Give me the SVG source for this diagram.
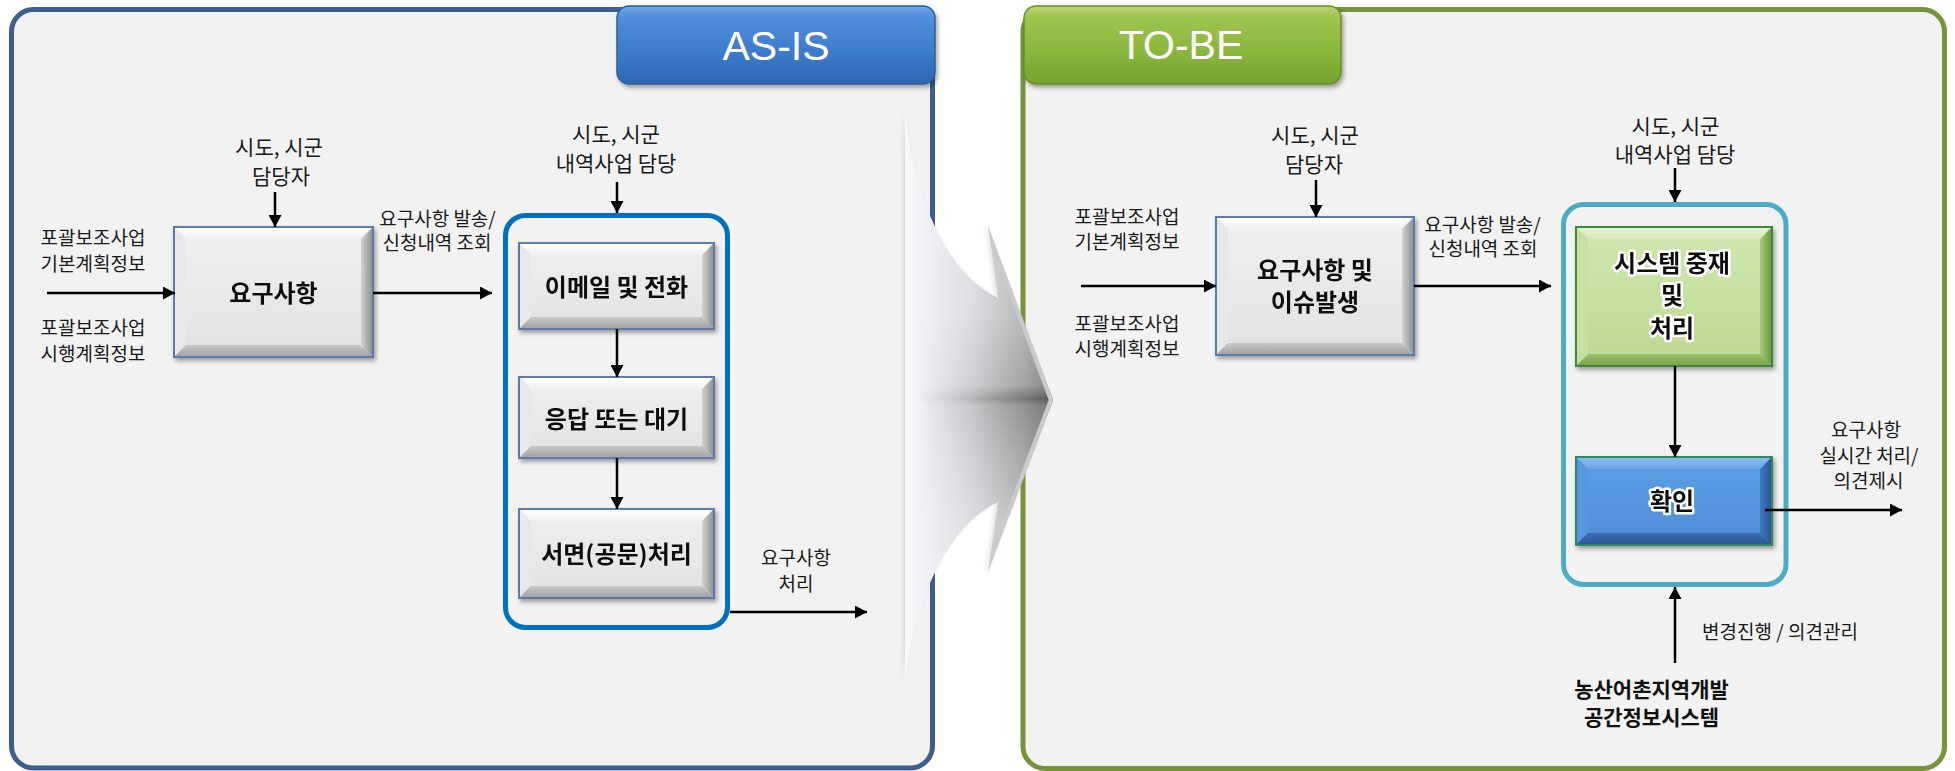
<svg xmlns="http://www.w3.org/2000/svg" width="1955" height="771" viewBox="0 0 1955 771">
<style>
.lbl{font-family:"Noto Sans CJK KR","Noto Sans",sans-serif;font-size:19px;fill:#1a1a1a;text-anchor:middle}
.l21{font-size:21px}
.bx{font-family:"Noto Sans CJK KR","Noto Sans",sans-serif;font-size:24px;font-weight:bold;fill:#111;text-anchor:middle}
.glow{stroke:#fff;stroke-width:5px;stroke-linejoin:round;paint-order:stroke}
.bold{font-weight:bold;fill:#111}
.tab{font-family:"Liberation Sans",Arial,sans-serif;font-size:41px;fill:#fff;text-anchor:middle}
.conn line{stroke:#000;stroke-width:2.5;marker-end:url(#ah)}
.g-face{fill:url(#gFace)}.g-top{fill:url(#gTop)}.g-left{fill:#e8e8e8}.g-right{fill:url(#gRight)}.g-bot{fill:url(#gBot)}
.n-face{fill:url(#nFace)}.n-top{fill:url(#nTop)}.n-left{fill:#c6e0a2}.n-right{fill:url(#nRight)}.n-bot{fill:url(#nBot)}
.b-face{fill:url(#bFace)}.b-top{fill:url(#bTop)}.b-left{fill:#5597de}.b-right{fill:url(#bRight)}.b-bot{fill:url(#bBot)}
.g-edge{fill:none;stroke:#5b7bab;stroke-width:2}
.n-edge{fill:none;stroke:#3b8a3a;stroke-width:2}
.b-edge{fill:none;stroke:#2e8a5a;stroke-width:2}
</style>
<defs>
<marker id="ah" markerUnits="userSpaceOnUse" markerWidth="12" markerHeight="13" viewBox="0 0 12 13" refX="12" refY="6.5" orient="auto"><path d="M0,0 L12,6.5 L0,13 Z" fill="#000"/></marker>
<filter id="sh" x="-10%" y="-10%" width="125%" height="130%"><feDropShadow dx="2" dy="3" stdDeviation="2" flood-color="#000" flood-opacity="0.35"/></filter>
<filter id="ash" x="-10%" y="-5%" width="120%" height="110%"><feDropShadow dx="-2" dy="0" stdDeviation="2" flood-color="#000" flood-opacity="0.12"/></filter>
<linearGradient id="gFace" x1="0" y1="0" x2="0" y2="1"><stop offset="0" stop-color="#f0f0f0"/><stop offset="1" stop-color="#e2e2e2"/></linearGradient>
<linearGradient id="gTop" x1="0" y1="0" x2="0" y2="1"><stop offset="0" stop-color="#ffffff"/><stop offset="1" stop-color="#f0f0f0"/></linearGradient>
<linearGradient id="gRight" x1="0" y1="0" x2="1" y2="0"><stop offset="0" stop-color="#d2d2d2"/><stop offset="1" stop-color="#8c8c8c"/></linearGradient>
<linearGradient id="gBot" x1="0" y1="0" x2="0" y2="1"><stop offset="0" stop-color="#c8c8c8"/><stop offset="1" stop-color="#a0a0a0"/></linearGradient>
<linearGradient id="nFace" x1="0" y1="0" x2="0" y2="1"><stop offset="0" stop-color="#d0e7b0"/><stop offset="1" stop-color="#bcd992"/></linearGradient>
<linearGradient id="nTop" x1="0" y1="0" x2="0" y2="1"><stop offset="0" stop-color="#e8f3d8"/><stop offset="1" stop-color="#d3e9b5"/></linearGradient>
<linearGradient id="nRight" x1="0" y1="0" x2="1" y2="0"><stop offset="0" stop-color="#a9ca7e"/><stop offset="1" stop-color="#6a963d"/></linearGradient>
<linearGradient id="nBot" x1="0" y1="0" x2="0" y2="1"><stop offset="0" stop-color="#9fc06e"/><stop offset="1" stop-color="#779f48"/></linearGradient>
<linearGradient id="bFace" x1="0" y1="0" x2="0" y2="1"><stop offset="0" stop-color="#5d9fe4"/><stop offset="1" stop-color="#4e8ed8"/></linearGradient>
<linearGradient id="bTop" x1="0" y1="0" x2="0" y2="1"><stop offset="0" stop-color="#8fbff0"/><stop offset="1" stop-color="#6aa6e6"/></linearGradient>
<linearGradient id="bRight" x1="0" y1="0" x2="1" y2="0"><stop offset="0" stop-color="#3f78c0"/><stop offset="1" stop-color="#2a5596"/></linearGradient>
<linearGradient id="bBot" x1="0" y1="0" x2="0" y2="1"><stop offset="0" stop-color="#3a6db0"/><stop offset="1" stop-color="#2b5592"/></linearGradient>
<linearGradient id="tabBlue" x1="0" y1="0" x2="0" y2="1"><stop offset="0" stop-color="#70a9ea"/><stop offset="0.15" stop-color="#4e8edb"/><stop offset="0.6" stop-color="#3c7bcc"/><stop offset="1" stop-color="#2c66b2"/></linearGradient>
<linearGradient id="tabGreen" x1="0" y1="0" x2="0" y2="1"><stop offset="0" stop-color="#b8d672"/><stop offset="0.15" stop-color="#9ec44e"/><stop offset="0.6" stop-color="#8bb63d"/><stop offset="1" stop-color="#76a12d"/></linearGradient>
<linearGradient id="arrH" gradientUnits="userSpaceOnUse" x1="905" y1="0" x2="1053" y2="0"><stop offset="0" stop-color="#f7f8fc"/><stop offset="0.45" stop-color="#e2e3e6"/><stop offset="0.8" stop-color="#c2c2c4"/><stop offset="1" stop-color="#a8a8a8"/></linearGradient>
<linearGradient id="arrV" gradientUnits="userSpaceOnUse" x1="0" y1="112" x2="0" y2="682"><stop offset="0" stop-color="#000" stop-opacity="0"/><stop offset="0.35" stop-color="#000" stop-opacity="0.05"/><stop offset="0.48" stop-color="#000" stop-opacity="0.2"/><stop offset="0.503" stop-color="#000" stop-opacity="0.48"/><stop offset="0.515" stop-color="#000" stop-opacity="0.3"/><stop offset="0.6" stop-color="#000" stop-opacity="0.18"/><stop offset="0.72" stop-color="#000" stop-opacity="0.05"/><stop offset="1" stop-color="#000" stop-opacity="0"/></linearGradient>
<linearGradient id="maskG" gradientUnits="userSpaceOnUse" x1="915" y1="0" x2="1053" y2="0"><stop offset="0" stop-color="#000"/><stop offset="1" stop-color="#fff"/></linearGradient>
<mask id="arrMask" maskUnits="userSpaceOnUse" x="880" y="100" width="200" height="600"><rect x="880" y="100" width="200" height="600" fill="url(#maskG)"/></mask>
<clipPath id="arrClip"><path d="M905,112 C915,205 950,275 998,298 L988,226 L1053,400 L988,572 L998,502 C950,525 915,595 905,682 Z"/></clipPath>
</defs>

<g id="panel-asis">
<rect x="11.5" y="9.5" width="921" height="758.5" rx="22" fill="#f2f2f2" stroke="#3e5f8e" stroke-width="5"/>
<rect x="617" y="6" width="318" height="78" rx="12" fill="url(#tabBlue)" stroke="#2e5d9a" stroke-width="1.5" filter="url(#sh)"/>
<text class="tab" x="776" y="60">AS-IS</text>
</g>
<g id="panel-tobe">
<rect x="1023" y="9.5" width="921.5" height="759" rx="22" fill="#f2f2f2" stroke="#77933c" stroke-width="5"/>
<rect x="1024" y="6" width="317" height="78" rx="12" fill="url(#tabGreen)" stroke="#6a8f2a" stroke-width="1.5" filter="url(#sh)"/>
<text class="tab" x="1181" y="59">TO-BE</text>
</g>

<g id="labels-asis">
<text class="lbl l21" x="279" y="155">시도, 시군</text>
<text class="lbl l21" x="281" y="184">담당자</text>
<text class="lbl" x="93" y="245">포괄보조사업</text>
<text class="lbl" x="93" y="270.5">기본계획정보</text>
<text class="lbl" x="93" y="334.5">포괄보조사업</text>
<text class="lbl" x="93" y="360.5">시행계획정보</text>
<text class="lbl" x="437.5" y="225.5">요구사항 발송/</text>
<text class="lbl" x="437" y="249.5">신청내역 조회</text>
<text class="lbl l21" x="616" y="142">시도, 시군</text>
<text class="lbl l21" x="616" y="171">내역사업 담당</text>
<text class="lbl" x="796" y="564.5">요구사항</text>
<text class="lbl" x="796" y="590.5">처리</text>
</g>

<g id="container-asis"><rect x="505.5" y="215.5" width="222" height="412" rx="20" fill="none" stroke="#0070c0" stroke-width="5"/></g>

<g id="node-req" filter="url(#sh)">
<rect class="g-face" x="174" y="227" width="199" height="130"/>
<polygon class="g-top" points="174,227 373,227 361,239 186,239"/>
<polygon class="g-left" points="174,227 186,239 186,345 174,357"/>
<polygon class="g-right" points="373,227 373,357 361,345 361,239"/>
<polygon class="g-bot" points="174,357 186,345 361,345 373,357"/>
<rect class="g-edge" x="174" y="227" width="199" height="130"/>
<text class="bx" x="273.5" y="302">요구사항</text>
</g>
<g id="node-email" filter="url(#sh)">
<rect class="g-face" x="519" y="243" width="195" height="86"/>
<polygon class="g-top" points="519,243 714,243 702,255 531,255"/>
<polygon class="g-left" points="519,243 531,255 531,317 519,329"/>
<polygon class="g-right" points="714,243 714,329 702,317 702,255"/>
<polygon class="g-bot" points="519,329 531,317 702,317 714,329"/>
<rect class="g-edge" x="519" y="243" width="195" height="86"/>
<text class="bx" x="616.5" y="296">이메일 및 전화</text>
</g>
<g id="node-wait" filter="url(#sh)">
<rect class="g-face" x="519" y="377" width="195" height="81"/>
<polygon class="g-top" points="519,377 714,377 702,389 531,389"/>
<polygon class="g-left" points="519,377 531,389 531,446 519,458"/>
<polygon class="g-right" points="714,377 714,458 702,446 702,389"/>
<polygon class="g-bot" points="519,458 531,446 702,446 714,458"/>
<rect class="g-edge" x="519" y="377" width="195" height="81"/>
<text class="bx" x="616.5" y="428">응답 또는 대기</text>
</g>
<g id="node-doc" filter="url(#sh)">
<rect class="g-face" x="519" y="509" width="195" height="89"/>
<polygon class="g-top" points="519,509 714,509 702,521 531,521"/>
<polygon class="g-left" points="519,509 531,521 531,586 519,598"/>
<polygon class="g-right" points="714,509 714,598 702,586 702,521"/>
<polygon class="g-bot" points="519,598 531,586 702,586 714,598"/>
<rect class="g-edge" x="519" y="509" width="195" height="89"/>
<text class="bx" x="616.5" y="563">서면(공문)처리</text>
</g>

<g id="labels-tobe">
<text class="lbl l21" x="1315" y="143">시도, 시군</text>
<text class="lbl l21" x="1314" y="172">담당자</text>
<text class="lbl" x="1127" y="223.5">포괄보조사업</text>
<text class="lbl" x="1127" y="248.5">기본계획정보</text>
<text class="lbl" x="1127" y="330.5">포괄보조사업</text>
<text class="lbl" x="1127" y="355.5">시행계획정보</text>
<text class="lbl" x="1482.5" y="231.5">요구사항 발송/</text>
<text class="lbl" x="1483" y="256">신청내역 조회</text>
<text class="lbl l21" x="1675.5" y="134">시도, 시군</text>
<text class="lbl l21" x="1675" y="162">내역사업 담당</text>
<text class="lbl" x="1866" y="437">요구사항</text>
<text class="lbl" x="1869" y="463">실시간 처리/</text>
<text class="lbl" x="1868.5" y="488">의견제시</text>
<text class="lbl" x="1780" y="639">변경진행 / 의견관리</text>
<text class="lbl l21 bold" x="1651.5" y="697">농산어촌지역개발</text>
<text class="lbl l21 bold" x="1651.5" y="725">공간정보시스템</text>
</g>

<g id="container-tobe"><rect x="1563.5" y="204.5" width="222.5" height="380" rx="20" fill="none" stroke="#4bacc6" stroke-width="5"/></g>

<g id="node-issue" filter="url(#sh)">
<rect class="g-face" x="1216" y="217" width="198" height="138"/>
<polygon class="g-top" points="1216,217 1414,217 1402,229 1228,229"/>
<polygon class="g-left" points="1216,217 1228,229 1228,343 1216,355"/>
<polygon class="g-right" points="1414,217 1414,355 1402,343 1402,229"/>
<polygon class="g-bot" points="1216,355 1228,343 1402,343 1414,355"/>
<rect class="g-edge" x="1216" y="217" width="198" height="138"/>
<text class="bx" x="1315" y="279">요구사항 및</text>
<text class="bx" x="1315" y="311">이슈발생</text>
</g>
<g id="node-system" filter="url(#sh)">
<rect class="n-face" x="1576" y="227" width="196" height="139"/>
<polygon class="n-top" points="1576,227 1772,227 1760,239 1588,239"/>
<polygon class="n-left" points="1576,227 1588,239 1588,354 1576,366"/>
<polygon class="n-right" points="1772,227 1772,366 1760,354 1760,239"/>
<polygon class="n-bot" points="1576,366 1588,354 1760,354 1772,366"/>
<rect class="n-edge" x="1576" y="227" width="196" height="139"/>
<text class="bx glow" x="1672" y="272">시스템 중재</text>
<text class="bx glow" x="1672" y="304">및</text>
<text class="bx glow" x="1672" y="337">처리</text>
</g>
<g id="node-confirm" filter="url(#sh)">
<rect class="b-face" x="1576" y="457" width="196" height="88"/>
<polygon class="b-top" points="1576,457 1772,457 1760,469 1588,469"/>
<polygon class="b-left" points="1576,457 1588,469 1588,533 1576,545"/>
<polygon class="b-right" points="1772,457 1772,545 1760,533 1760,469"/>
<polygon class="b-bot" points="1576,545 1588,533 1760,533 1772,545"/>
<rect class="b-edge" x="1576" y="457" width="196" height="88"/>
<text class="bx glow" x="1672" y="510">확인</text>
</g>

<g id="connectors" class="conn">
<line x1="47" y1="293" x2="175" y2="293"/>
<line x1="275" y1="192" x2="275" y2="227"/>
<line x1="373" y1="293" x2="492" y2="293"/>
<line x1="617" y1="182" x2="617" y2="213"/>
<line x1="617" y1="329" x2="617" y2="377"/>
<line x1="617" y1="458" x2="617" y2="509"/>
<line x1="730" y1="612" x2="867" y2="612"/>
<line x1="1081" y1="286" x2="1216" y2="286"/>
<line x1="1316" y1="180" x2="1316" y2="217"/>
<line x1="1414" y1="286" x2="1551" y2="286"/>
<line x1="1675" y1="168" x2="1675" y2="202"/>
<line x1="1675" y1="366" x2="1675" y2="457"/>
<line x1="1765" y1="510" x2="1902" y2="510"/>
<line x1="1675" y1="663" x2="1675" y2="587"/>
</g>

<g id="big-arrow" filter="url(#ash)">
<path d="M905,112 C915,205 950,275 998,298 L988,226 L1053,400 L988,572 L998,502 C950,525 915,595 905,682 Z" fill="url(#arrH)"/>
<path d="M905,112 C915,205 950,275 998,298 L988,226 L1053,400 L988,572 L998,502 C950,525 915,595 905,682 Z" fill="url(#arrV)" mask="url(#arrMask)"/>
<path d="M988,226 L1053,400 L988,572" fill="none" stroke="#cacacc" stroke-width="8" clip-path="url(#arrClip)"/>
</g>
</svg>
